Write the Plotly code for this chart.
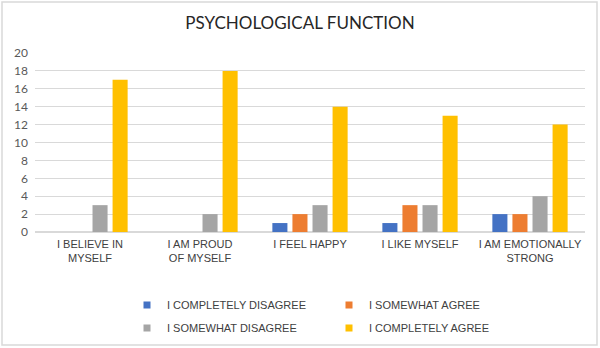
import plotly.graph_objects as go

categories = ["I BELIEVE IN<br>MYSELF", "I AM PROUD<br>OF MYSELF", "I FEEL HAPPY",
              "I LIKE MYSELF", "I AM EMOTIONALLY<br>STRONG"]
completely_disagree = [0, 0, 1, 1, 2]
somewhat_agree = [0, 0, 2, 3, 2]
somewhat_disagree = [3, 2, 3, 3, 4]
completely_agree = [17, 18, 14, 13, 12]

series = [
    ("I COMPLETELY DISAGREE", completely_disagree, "#4472C4", "legend"),
    ("I SOMEWHAT AGREE", somewhat_agree, "#ED7D31", "legend"),
    ("I SOMEWHAT DISAGREE", somewhat_disagree, "#A5A5A5", "legend2"),
    ("I COMPLETELY AGREE", completely_agree, "#FFC000", "legend2"),
]

fig = go.Figure()
for name, vals, color, lg in series:
    fig.add_trace(go.Bar(x=categories, y=vals, name=name, marker_color=color,
                         marker_line_width=0, showlegend=False))
for name, vals, color, lg in series:
    fig.add_trace(go.Scatter(x=[None], y=[None], mode="markers", name=name,
                             marker=dict(symbol="square", size=7, color=color),
                             legend=lg, showlegend=True))

L, R, T, B = 35, 15, 53, 116
W, H = 600, 348
pw = W - L - R
ph = H - T - B

def px2x(px):
    return (px - L) / pw

def py2y(py):
    return (H - B - py) / ph

legend_font = dict(family="Liberation Sans, Arial", size=11, color="#404040")
fig.update_layout(
    width=W, height=H,
    margin=dict(l=L, r=R, t=T, b=B, autoexpand=False),
    paper_bgcolor="white", plot_bgcolor="white",
    barmode="group", bargap=0.27, bargroupgap=0.25,
    title=dict(text="PSYCHOLOGICAL FUNCTION", x=0.5, xanchor="center",
               y=1 - 23 / H, yanchor="middle",
               font=dict(family="Lato, Open Sans", size=17, color="#262626")),
    xaxis=dict(showgrid=False, showline=False, ticks="", automargin=False,
               ticklabelstandoff=4,
               tickfont=dict(family="Liberation Sans, Arial", size=11, color="#404040")),
    yaxis=dict(range=[0, 20], dtick=2, showgrid=True, gridcolor="#D9D9D9",
               gridwidth=1, zeroline=True, zerolinecolor="#D9D9D9", showline=False,
               ticks="", automargin=False, ticklabelstandoff=6,
               tickfont=dict(family="Lato, Open Sans", size=12, color="#595959")),
    legend=dict(orientation="h", x=px2x(127), xanchor="left", y=py2y(305), yanchor="middle",
                entrywidth=157, entrywidthmode="pixels", font=legend_font,
                itemwidth=30, bgcolor="rgba(0,0,0,0)", tracegroupgap=0),
    legend2=dict(orientation="h", x=px2x(127), xanchor="left", y=py2y(328), yanchor="middle",
                 entrywidth=157, entrywidthmode="pixels", font=legend_font,
                 itemwidth=30, bgcolor="rgba(0,0,0,0)", tracegroupgap=0),
    shapes=[dict(type="rect", xref="paper", yref="paper",
                 x0=px2x(2), x1=px2x(597), y0=py2y(345), y1=py2y(2),
                 line=dict(color="#D9D9D9", width=1.5), layer="below")],
)

fig.write_html("out.html")
